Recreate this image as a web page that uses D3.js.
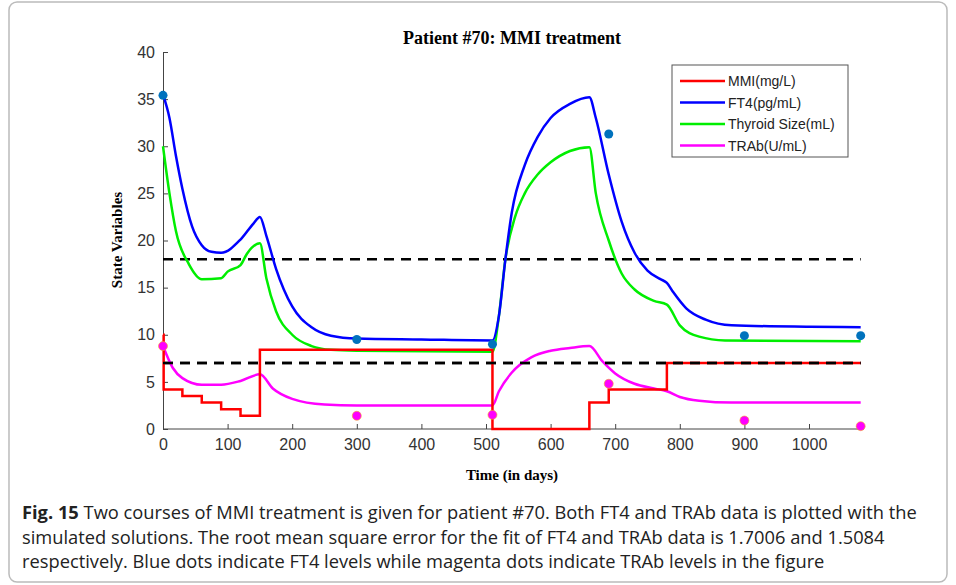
<!DOCTYPE html>
<html><head><meta charset="utf-8">
<script src="https://cdn.jsdelivr.net/npm/d3@7"></script>
<style>body{margin:0;background:#fff}</style>
</head><body>
<svg id="c" width="956" height="585"></svg>
<script>
// data: [day, value]
var mmi = [[0,10],[1,4.2],[30,3.5],[60,2.8],[90,2.1],[120,1.4],[150,8.4],[510,0],[660,2.8],[690,4.2],[780,7],[1080,7]];
var ft4 = [[0,35.5],[10,33],[20,29],[30,25.5],[45,21.5],[60,19.5],[75,18.8],[90,18.7],[120,20.1],[140,21.8],[150,22.5],[160,20.5],[175,17],[200,13],[230,10.8],[260,9.9],[300,9.6],[400,9.5],[510,9.4],[520,12],[530,18],[540,23],[560,28],[580,31],[600,33],[630,34.5],[660,35.2],[670,33],[690,27],[710,22],[730,18.7],[750,16.8],[770,15.9],[780,15.5],[790,14.5],[810,12.8],[840,11.6],[880,11],[1000,10.85],[1080,10.8]];
var thyroid = [[0,30],[10,25],[20,21],[40,17.5],[60,15.9],[90,16],[100,16.7],[120,17.4],[130,18.6],[150,19.7],[160,16],[175,12.5],[200,10],[230,8.8],[260,8.4],[300,8.3],[510,8.2],[520,12],[530,18],[545,22.5],[560,25],[580,27],[600,28.3],[630,29.5],[660,29.9],[670,25],[690,20],[710,16.5],[730,14.8],[760,13.6],[780,13.2],[800,11],[830,9.8],[870,9.4],[1080,9.3]];
var trab = [[0,8.8],[15,6.5],[30,5.4],[60,4.7],[90,4.7],[120,5.1],[150,5.8],[170,4.3],[200,3.2],[250,2.6],[300,2.5],[510,2.5],[520,4],[540,6],[570,7.6],[600,8.3],[630,8.6],[660,8.8],[680,7.2],[700,5.9],[730,4.8],[760,4.3],[780,4],[800,3.4],[830,3],[880,2.8],[1080,2.8]];
var ft4Dots = [[0,35.4],[300,9.5],[510,9.0],[690,31.3],[900,9.9],[1080,9.9]];
var trabDots = [[0,8.8],[300,1.4],[510,1.5],[690,4.8],[900,0.9],[1080,0.3]];
var refLines = [18, 7];
var xTicks = [0,100,200,300,400,500,600,700,800,900,1000];
var yTicks = [0,5,10,15,20,25,30,35,40];
var legendNames = ["MMI(mg/L)","FT4(pg/mL)","Thyroid Size(mL)","TRAb(U/mL)"];
var legendColors = ["#ff0000","#0000ff","#00ee00","#ff00ff"];

var svg = d3.select("#c");
svg.append("rect").attr("x",9).attr("y",2).attr("width",938).attr("height",580)
  .attr("rx",8).attr("fill","none").attr("stroke","#bbb").attr("stroke-width",1.5);

var x = d3.scaleLinear().domain([0,1000]).range([163,809]);
var y = d3.scaleLinear().domain([0,40]).range([429,52]);
var g = svg.append("g");

g.append("g").attr("transform","translate(0,429)")
  .call(d3.axisBottom(x).tickValues(xTicks).tickFormat(d3.format("d")).tickSizeInner(-5).tickSizeOuter(0).tickPadding(10))
  .call(a => a.select(".domain").attr("d","M"+x(0)+",0H"+x(1085)));
g.append("g").attr("transform","translate(163,0)")
  .call(d3.axisLeft(y).tickValues(yTicks).tickSizeInner(-5).tickSizeOuter(0).tickPadding(8));
g.selectAll(".tick text").attr("font-family","Liberation Sans, Arial").attr("font-size",16).attr("fill","#333");
g.selectAll(".domain, .tick line").attr("stroke","#444");

refLines.forEach(function (v) {
  g.append("line").attr("x1",x(0)).attr("x2",x(1080)).attr("y1",y(v)).attr("y2",y(v))
    .attr("stroke","#000").attr("stroke-width",2.5).attr("stroke-dasharray","10,7");
});

var smooth = d3.line().x(d => x(d[0])).y(d => y(d[1])).curve(d3.curveMonotoneX);
var step = d3.line().x(d => x(d[0])).y(d => y(d[1])).curve(d3.curveStepAfter);
[[thyroid,"#00ee00",smooth],[ft4,"#0000ff",smooth],[trab,"#ff00ff",smooth],[mmi,"#ff0000",step]].forEach(function (s) {
  g.append("path").attr("d",s[2](s[0])).attr("fill","none").attr("stroke",s[1]).attr("stroke-width",2.5);
});
// dashes show through the MMI line at 7 in the original
g.append("line").attr("x1",x(0)).attr("x2",x(1080)).attr("y1",y(7)).attr("y2",y(7))
  .attr("stroke","#000").attr("stroke-width",2.5).attr("stroke-dasharray","10,7");

g.selectAll(".fd").data(ft4Dots).join("circle").attr("cx",d => x(d[0])).attr("cy",d => y(d[1]))
  .attr("r",4.5).attr("fill","#0072bd");
g.selectAll(".td").data(trabDots).join("circle").attr("cx",d => x(d[0])).attr("cy",d => y(d[1]))
  .attr("r",4.5).attr("fill","#ff00ff").attr("stroke","#f5a623").attr("stroke-width",0.6);

svg.append("text").attr("x",512).attr("y",44).attr("text-anchor","middle")
  .attr("font-family","Liberation Serif, Times New Roman").attr("font-weight","bold").attr("font-size",18)
  .text("Patient #70: MMI treatment");
svg.append("text").attr("x",512).attr("y",480).attr("text-anchor","middle")
  .attr("font-family","Liberation Serif, Times New Roman").attr("font-weight","bold").attr("font-size",15)
  .text("Time (in days)");
svg.append("text").attr("transform","translate(122,240) rotate(-90)").attr("text-anchor","middle")
  .attr("font-family","Liberation Serif, Times New Roman").attr("font-weight","bold").attr("font-size",15)
  .text("State Variables");

var lg = svg.append("g").attr("transform","translate(672,65)");
lg.append("rect").attr("width",176).attr("height",92).attr("fill","#fff").attr("stroke","#555");
legendNames.forEach(function (n, i) {
  var yy = 16 + i * 21.5;
  lg.append("line").attr("x1",8).attr("x2",53).attr("y1",yy).attr("y2",yy)
    .attr("stroke",legendColors[i]).attr("stroke-width",2.5);
  lg.append("text").attr("x",56).attr("y",yy+5).attr("font-family","Liberation Sans, Arial")
    .attr("font-size",14).attr("fill","#222").text(n);
});

var cap = ["Two courses of MMI treatment is given for patient #70. Both FT4 and TRAb data is plotted with the",
  "simulated solutions. The root mean square error for the fit of FT4 and TRAb data is 1.7006 and 1.5084",
  "respectively. Blue dots indicate FT4 levels while magenta dots indicate TRAb levels in the figure"];
cap.forEach(function (c, i) {
  var t = svg.append("text").attr("x",22).attr("y",519 + i*24.5).attr("font-family","Open Sans")
    .attr("font-size",18.3).attr("fill","#222");
  if (i === 0) t.append("tspan").attr("font-weight","bold").text("Fig. 15 ");
  t.append("tspan").text(" " + c);
});
</script>
</body></html>
